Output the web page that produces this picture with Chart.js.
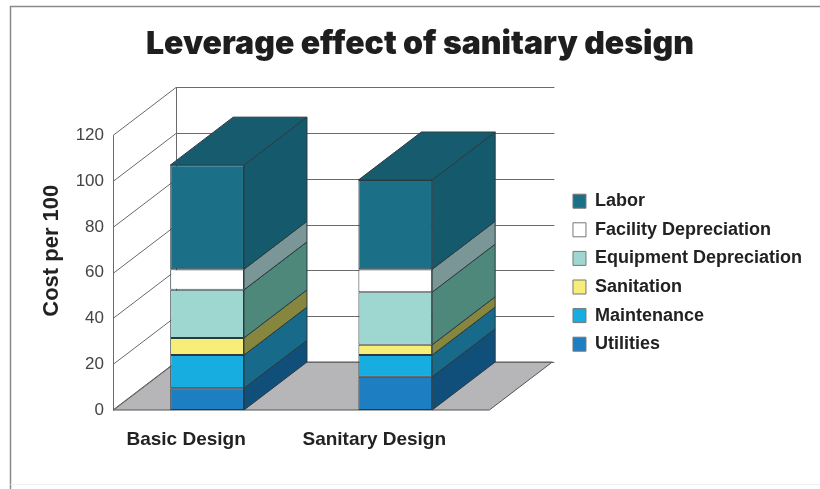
<!DOCTYPE html>
<html>
<head>
<meta charset="utf-8">
<script src="https://cdn.jsdelivr.net/npm/chart.js@4.4.1/dist/chart.umd.min.js"></script>
<style>
  html, body { margin: 0; padding: 0; background: #fff; }
  canvas { display: block; }
</style>
</head>
<body>
<canvas id="c" width="820" height="489"></canvas>
<script>
// ---- data ----
const categories = ['Basic Design', 'Sanitary Design'];
const seriesNames = ['Utilities', 'Maintenance', 'Sanitation', 'Equipment Depreciation', 'Facility Depreciation', 'Labor'];
const utilities   = [9.5, 14.5];
const maintenance = [14.5, 9.5];
const sanitation  = [7.5, 4.5];
const equipmentDep = [21, 23];
const facilityDep  = [9, 10];
const labor        = [45.5, 39];
const yTicks = [0, 20, 40, 60, 80, 100, 120];

// ---- styles ----
const frontColors = ['#1e7ec2', '#17ade0', '#f6ee78', '#9ed7cf', '#ffffff', '#1b7088'];
const sideColors  = ['#0f4f7a', '#176a8a', '#86863e', '#4e887a', '#7b9696', '#155a6c'];
const topColor = '#165b6e';
const edgeColor = '#2b3a40';
const DX = 63, DY = -48;

const seriesValues = [utilities, maintenance, sanitation, equipmentDep, facilityDep, labor];

const threeD = {
  id: 'threeD',
  beforeLayout(chart) {
    // let the right-hand legend take its natural width
    const lg = chart.legend;
    if (lg && !lg._wide) {
      const orig = lg.update.bind(lg);
      lg.update = (mw, mh, m) => orig(Math.max(mw, 280), mh, m);
      lg._wide = true;
    }
  },
  beforeDraw(chart) {
    const ctx = chart.ctx;
    ctx.save();
    ctx.fillStyle = '#fff';
    ctx.fillRect(0, 0, chart.width, chart.height);
    ctx.strokeStyle = '#8a8a8a';
    ctx.lineWidth = 1.5;
    ctx.beginPath();
    ctx.moveTo(10.5, chart.height);
    ctx.lineTo(10.5, 6.5);
    ctx.lineTo(chart.width, 6.5);
    ctx.stroke();
    ctx.strokeStyle = '#eeeeee';
    ctx.lineWidth = 1;
    ctx.beginPath();
    ctx.moveTo(10.5, 484.5);
    ctx.lineTo(chart.width, 484.5);
    ctx.stroke();
    ctx.restore();
  },
  beforeDatasetsDraw(chart) {
    const ctx = chart.ctx;
    const a = chart.chartArea;
    const y = chart.scales.y;
    const y0 = y.getPixelForValue(0);
    const yTop = y.getPixelForValue(y.max);
    ctx.save();
    ctx.lineWidth = 1;
    // floor
    ctx.fillStyle = '#b6b6b9';
    ctx.strokeStyle = '#555';
    ctx.beginPath();
    ctx.moveTo(a.left, y0);
    ctx.lineTo(a.right, y0);
    ctx.lineTo(a.right + DX, y0 + DY);
    ctx.lineTo(a.left + DX, y0 + DY);
    ctx.closePath();
    ctx.fill();
    ctx.stroke();
    // grid lines on side wall and back wall
    ctx.strokeStyle = '#6a6a6a';
    y.ticks.forEach(t => {
      const yy = Math.round(y.getPixelForValue(t.value)) + 0.5;
      ctx.beginPath();
      ctx.moveTo(a.left, yy);
      ctx.lineTo(a.left + DX, yy + DY);
      ctx.lineTo(a.right + DX + 2, yy + DY);
      ctx.stroke();
    });
    // wall edges
    ctx.beginPath();
    ctx.moveTo(a.left + 0.5, yTop);
    ctx.lineTo(a.left + 0.5, y0);
    ctx.moveTo(a.left + DX + 0.5, yTop + DY);
    ctx.lineTo(a.left + DX + 0.5, y0 + DY);
    ctx.stroke();
    ctx.restore();
  },
  afterDatasetsDraw(chart) {
    const ctx = chart.ctx;
    const n = chart.data.datasets.length;
    ctx.save();
    ctx.lineWidth = 1;
    ctx.strokeStyle = edgeColor;
    ctx.lineJoin = 'round';
    for (let i = 0; i < n; i++) {
      const meta = chart.getDatasetMeta(i);
      meta.data.forEach(el => {
        const p = el.getProps(['x', 'y', 'base', 'width'], true);
        const l = p.x - p.width / 2, r = p.x + p.width / 2;
        const top = Math.min(p.y, p.base), bot = Math.max(p.y, p.base);
        ctx.fillStyle = sideColors[i];
        ctx.beginPath();
        ctx.moveTo(r, top);
        ctx.lineTo(r + DX, top + DY);
        ctx.lineTo(r + DX, bot + DY);
        ctx.lineTo(r, bot);
        ctx.closePath();
        ctx.fill();
        ctx.stroke();
        if (i === n - 1) {
          ctx.fillStyle = topColor;
          ctx.beginPath();
          ctx.moveTo(l, top);
          ctx.lineTo(l + DX, top + DY);
          ctx.lineTo(r + DX, top + DY);
          ctx.lineTo(r, top);
          ctx.closePath();
          ctx.fill();
          ctx.stroke();
        }
      });
    }
    ctx.restore();
  }
};

const datasets = seriesNames.map((name, i) => ({
  label: name,
  data: seriesValues[i],
  backgroundColor: frontColors[i],
  borderColor: edgeColor,
  borderWidth: 1,
  borderSkipped: false,
  barPercentage: 1,
  categoryPercentage: 0.392,
  yAxisID: 'y'
}));

new Chart(document.getElementById('c'), {
  type: 'bar',
  data: { labels: categories, datasets },
  plugins: [threeD],
  options: {
    responsive: false,
    animation: false,
    devicePixelRatio: 1,
    layout: { padding: { left: 28, right: 8, top: 0, bottom: 19 } },
    plugins: {
      title: {
        display: true,
        text: 'Leverage effect of sanitary design',
        color: '#1e1e1e',
        font: { family: 'Inter', size: 32, weight: '900' },
        padding: { top: 25, bottom: 72 }
      },
      legend: {
        position: 'right',
        fullSize: false,
        reverse: true,
        labels: {
          color: '#222',
          font: { family: 'Liberation Sans', size: 18, weight: 'bold' },
          boxWidth: 13,
          boxHeight: 14,
          padding: 10.6,
          generateLabels(chart) {
            const items = Chart.defaults.plugins.legend.labels.generateLabels(chart);
            items.forEach(it => { it.strokeStyle = '#777'; it.lineWidth = 1; });
            return items;
          }
        }
      },
      tooltip: { enabled: false }
    },
    scales: {
      x: {
        stacked: true,
        grid: { display: false, drawTicks: false },
        border: { display: false },
        ticks: {
          color: '#222',
          font: { family: 'Liberation Sans', size: 19, weight: 'bold' },
          padding: 18,
          labelOffset: -21
        },
        afterFit(s) { s.height = 60; }
      },
      y: {
        stacked: true,
        min: 0,
        max: 120,
        afterBuildTicks(s) { s.ticks = yTicks.map(v => ({ value: v })); },
        grid: { display: false, drawTicks: false },
        border: { display: false },
        ticks: {
          color: '#444',
          font: { family: 'Liberation Sans', size: 17 },
          padding: 9
        },
        title: {
          display: true,
          text: '\u2003\u2003Cost per 100',
          color: '#222',
          font: { family: 'Liberation Sans', size: 22, weight: 'bold' },
          padding: { top: 11, bottom: 0 }
        },
        afterFit(s) { s.width = 85; }
      },
      y2: {
        position: 'right',
        display: true,
        grid: { display: false, drawTicks: false },
        border: { display: false },
        ticks: { display: false },
        afterFit(s) { s.width = 73; }
      }
    }
  }
});
</script>
</body>
</html>
